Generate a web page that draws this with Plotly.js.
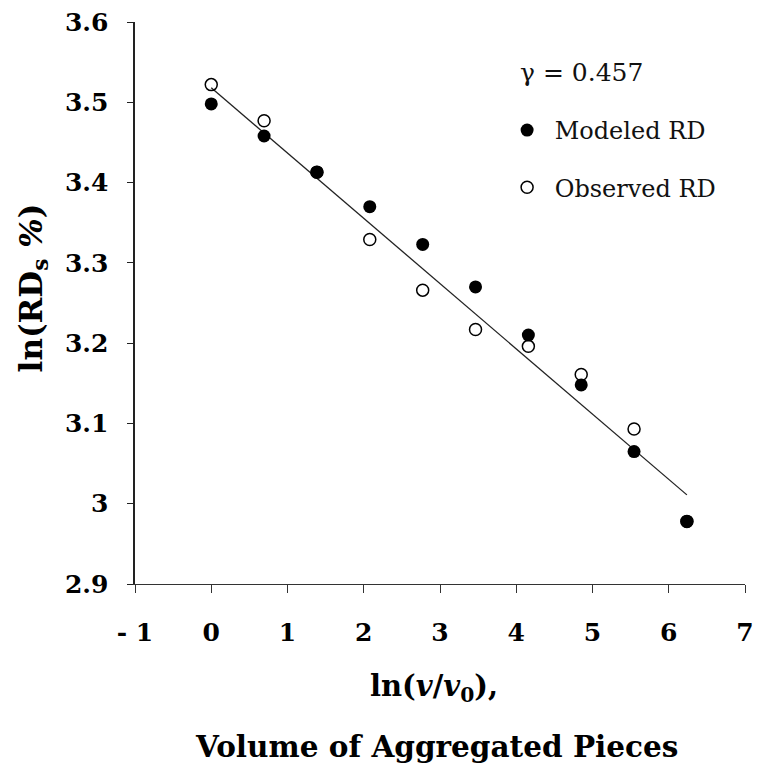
<!DOCTYPE html>
<html>
<head>
<meta charset="utf-8">
<script src="https://cdn.plot.ly/plotly-3.0.1.min.js"></script>
<style>html,body{margin:0;padding:0;background:#fff;}#chart{width:757px;height:769px;}</style>
</head>
<body>
<div id="chart"></div>
<script>
// ln(v/v0) values
const lnVolume = [0, 0.693, 1.386, 2.079, 2.773, 3.466, 4.159, 4.852, 5.545, 6.238];
const modeledRD = [3.498, 3.458, 3.413, 3.370, 3.323, 3.270, 3.210, 3.148, 3.065, 2.978];
const observedRD = [3.522, 3.477, 3.413, 3.329, 3.266, 3.217, 3.196, 3.161, 3.093, 2.978];
// fitted line endpoints
const fitX = [0, 6.238];
const fitY = [3.518, 3.011];
const xTickVals = [-1, 0, 1, 2, 3, 4, 5, 6, 7];
const xTickText = ['- 1', '0', '1', '2', '3', '4', '5', '6', '7'];
const yTickVals = [2.9, 3.0, 3.1, 3.2, 3.3, 3.4, 3.5, 3.6];
const yTickText = ['2.9', '3', '3.1', '3.2', '3.3', '3.4', '3.5', '3.6'];
const seriesNames = ['\u00A0Modeled RD', '\u00A0Observed RD'];
const gammaText = 'γ = 0.457';
const yTitle = 'ln(RD<sub>s</sub> <i>%</i>)';
const xTitle1 = 'ln(<i>v</i>/<i>v</i><sub>0</sub>),';
const xTitle2 = 'Volume of Aggregated Pieces';

const serif = '"DejaVu Serif", "Liberation Serif", serif';

const traces = [
  {x: fitX, y: fitY, mode: 'lines', line: {color: '#222', width: 1.3}, showlegend: false, hoverinfo: 'skip'},
  {x: lnVolume, y: modeledRD, mode: 'markers', name: seriesNames[0], legendgroup: 'a',
   marker: {symbol: 'circle', size: 13, color: '#000'}},
  {x: lnVolume, y: observedRD, mode: 'markers', name: seriesNames[1], legendgroup: 'b',
   marker: {symbol: 'circle-open', size: 12, color: '#000', line: {width: 1.5}}}
];

const layout = {
  width: 757, height: 769,
  margin: {l: 135, r: 12, t: 22, b: 185},
  paper_bgcolor: '#fff', plot_bgcolor: '#fff',
  font: {family: serif, color: '#000'},
  showlegend: true,
  legend: {x: 0.61, y: 0.847, xanchor: 'left', yanchor: 'top', bgcolor: 'rgba(0,0,0,0)',
           font: {family: serif, size: 24, color: '#111'}, tracegroupgap: 23, traceorder: 'grouped'},
  xaxis: {range: [-1, 7], tickvals: xTickVals, ticktext: xTickText, showgrid: false, zeroline: false,
          showline: true, linecolor: '#333', linewidth: 1.2, ticks: 'outside', ticklen: 8, tickcolor: '#333',
          tickfont: {family: serif, size: 25, weight: 'bold'}, ticklabelstandoff: 18},
  yaxis: {range: [2.9, 3.6], tickvals: yTickVals, ticktext: yTickText, showgrid: false, zeroline: false,
          showline: true, linecolor: '#222', linewidth: 1.6, ticks: 'outside', ticklen: 6, tickcolor: '#222',
          tickfont: {family: serif, size: 25, weight: 'bold'}, ticklabelstandoff: 14},
  annotations: [
    {xref: 'paper', yref: 'paper', x: 0, xshift: -102, y: 0.526, xanchor: 'center', yanchor: 'middle', showarrow: false,
     textangle: -90, text: '<b>' + yTitle + '</b>', font: {family: serif, size: 31, color: '#000'}},
    {xref: 'paper', yref: 'paper', x: 0.49, y: 0, yshift: -104, xanchor: 'center', yanchor: 'middle', showarrow: false,
     text: '<b>' + xTitle1 + '</b>', font: {family: serif, size: 29, color: '#000'}},
    {xref: 'paper', yref: 'paper', x: 0.495, y: 0, yshift: -162, xanchor: 'center', yanchor: 'middle', showarrow: false,
     text: '<b>' + xTitle2 + '</b>', font: {family: serif, size: 29.5, color: '#000'}},
    {xref: 'paper', yref: 'paper', x: 0.628, y: 1, yshift: -50, xanchor: 'left', yanchor: 'middle', showarrow: false,
     text: gammaText, font: {family: serif, size: 25, color: '#111'}}
  ]
};

Plotly.newPlot('chart', traces, layout, {displayModeBar: false, staticPlot: true});
</script>
</body>
</html>
